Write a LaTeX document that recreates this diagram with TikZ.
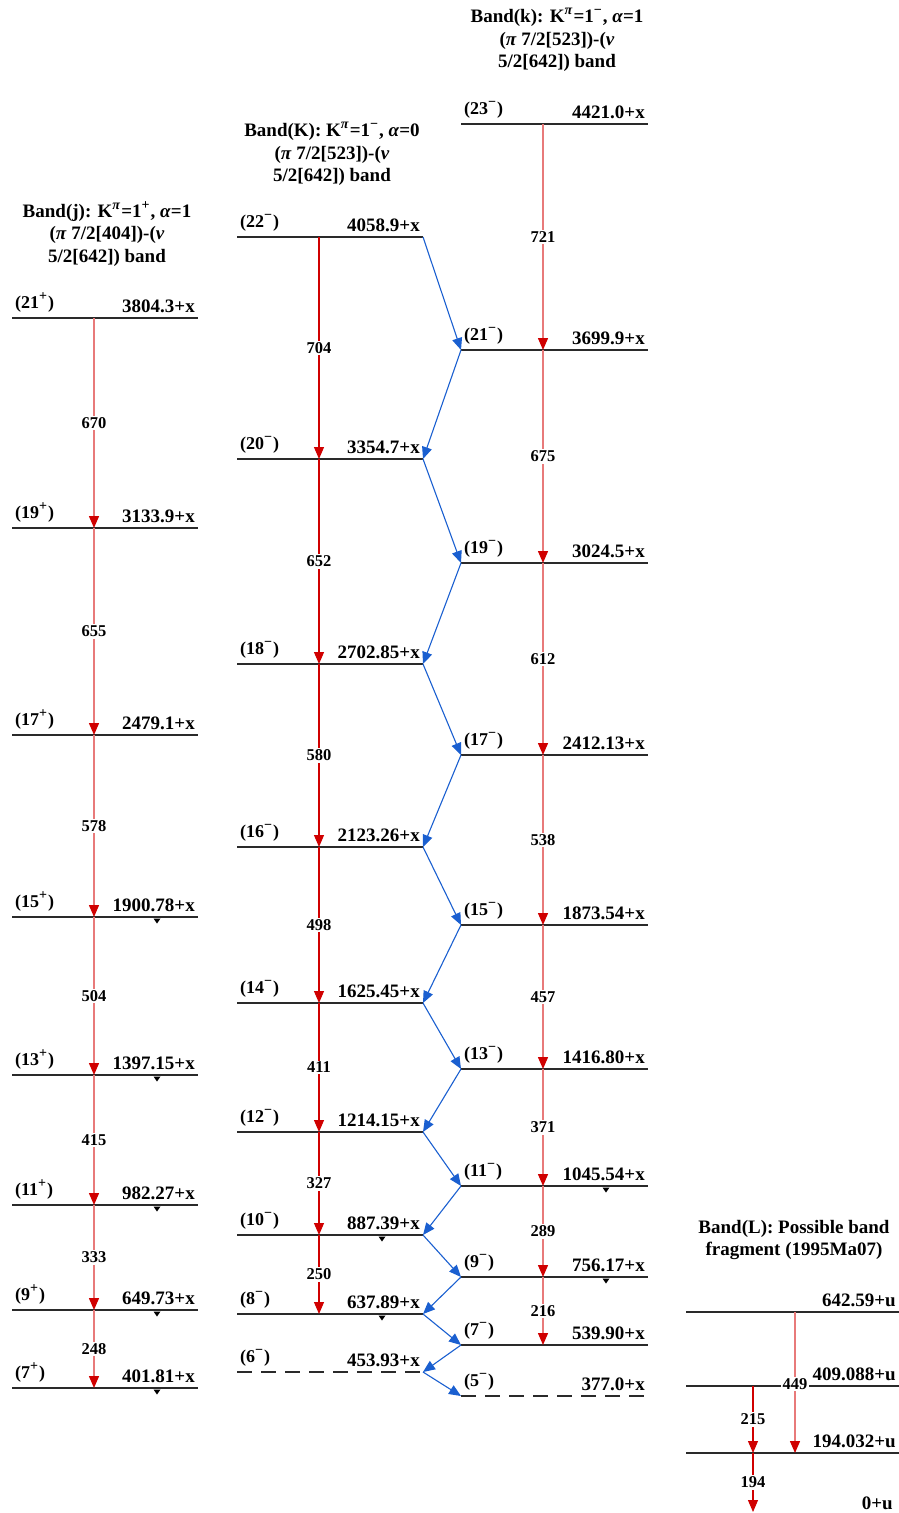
\documentclass[tikz,border=0pt]{standalone}
\usepackage{fontspec}
\setmainfont{Liberation Serif}
\usetikzlibrary{arrows.meta}
\definecolor{lvc}{HTML}{2A2A2A}
\definecolor{gpink}{HTML}{E87A7A}
\definecolor{gred}{HTML}{D00000}
\definecolor{gdark}{HTML}{D00000}
\definecolor{gblue}{HTML}{1A5FD0}

% raised sign used for parities
\newcommand\sps[1]{\raisebox{0.42em}{\fontsize{14}{14}\selectfont #1}\kern1pt}

% level: [style]{name}{x left}{x right}{x of gamma}{y}{spin}{energy}
\newcommand\levl[8][lvline]{%
  \coordinate (#2-l) at (#3,#6);
  \coordinate (#2-r) at (#4,#6);
  \coordinate (#2-g) at (#5,#6);
  \draw[#1] (#2-l) -- (#2-r);
  \node[spinlbl] (#2-s) at ({#3+3},{#6-10}) {#7};
  \node[enlbl] (#2-e) at ({#4-3},{#6-6}) {#8};
}
% small downward tick under a level
\newcommand\dtick[1]{%
  \fill[black] ([xshift=141.5pt,yshift=-1.5pt]#1-l) -- ([xshift=148.5pt,yshift=-1.5pt]#1-l)
    -- ([xshift=145pt,yshift=-6.5pt]#1-l) -- cycle;}

\begin{document}
\begin{tikzpicture}[x=1pt,y=-1pt,
  lvline/.style={draw=lvc, line width=1.2pt},
  lvdash/.style={lvline, dash pattern=on 15pt off 9pt},
  spinlbl/.style={font=\fontsize{18}{20}\selectfont\bfseries, anchor=base west, inner sep=0pt},
  enlbl/.style={font=\fontsize{19}{20}\selectfont\bfseries, anchor=base east, inner sep=0pt},
  glbl/.style={font=\fontsize{16.5}{18}\selectfont\bfseries, fill=white, inner sep=1.5pt},
  hdr/.style={font=\fontsize{19}{22.5}\selectfont\bfseries, align=center, inner sep=0pt},
  gsoft/.style={draw=gpink, line width=1.4pt, -{Triangle[width=10pt,length=12pt,color=gdark]}},
  ghard/.style={draw=gred, line width=1.2pt, -{Triangle[width=10pt,length=12pt,color=gdark]}},
  bluearr/.style={draw=gblue, line width=1.1pt, -{Triangle[width=10pt,length=12pt]}}]
\useasboundingbox (0,0) rectangle (899,1513);

% band headers
\node[hdr] (hj) at (107,234) {Band(j): K\sps{\textit{π}}=1\sps{+}, \textit{α}=1\\(\textit{π} 7/2[404])-(\textit{ν}\\5/2[642]) band};
\node[hdr] (hK) at (332,154) {Band(K): K\sps{\textit{π}}=1\sps{−}, \textit{α}=0\\(\textit{π} 7/2[523])-(\textit{ν}\\5/2[642]) band};
\node[hdr] (hk) at (557,40) {Band(k): K\sps{\textit{π}}=1\sps{−}, \textit{α}=1\\(\textit{π} 7/2[523])-(\textit{ν}\\5/2[642]) band};
\node[hdr] (hL) at (794,1240) {Band(L): Possible band\\fragment (1995Ma07)};

% band j
\levl{j21}{12}{198}{94}{318}{(21\sps{+})}{3804.3+x}
\levl{j19}{12}{198}{94}{528}{(19\sps{+})}{3133.9+x}
\levl{j17}{12}{198}{94}{735}{(17\sps{+})}{2479.1+x}
\levl{j15}{12}{198}{94}{917}{(15\sps{+})}{1900.78+x}
\levl{j13}{12}{198}{94}{1075}{(13\sps{+})}{1397.15+x}
\levl{j11}{12}{198}{94}{1205}{(11\sps{+})}{982.27+x}
\levl{j9}{12}{198}{94}{1310}{(9\sps{+})}{649.73+x}
\levl{j7}{12}{198}{94}{1388}{(7\sps{+})}{401.81+x}

% band K
\levl{K22}{237}{423}{319}{237}{(22\sps{−})}{4058.9+x}
\levl{K20}{237}{423}{319}{459}{(20\sps{−})}{3354.7+x}
\levl{K18}{237}{423}{319}{664}{(18\sps{−})}{2702.85+x}
\levl{K16}{237}{423}{319}{847}{(16\sps{−})}{2123.26+x}
\levl{K14}{237}{423}{319}{1003}{(14\sps{−})}{1625.45+x}
\levl{K12}{237}{423}{319}{1132}{(12\sps{−})}{1214.15+x}
\levl{K10}{237}{423}{319}{1235}{(10\sps{−})}{887.39+x}
\levl{K8}{237}{423}{319}{1314}{(8\sps{−})}{637.89+x}
\levl[lvdash]{K6}{237}{423}{319}{1372}{(6\sps{−})}{453.93+x}

% band k
\levl{k23}{461}{648}{543}{124}{(23\sps{−})}{4421.0+x}
\levl{k21}{461}{648}{543}{350}{(21\sps{−})}{3699.9+x}
\levl{k19}{461}{648}{543}{563}{(19\sps{−})}{3024.5+x}
\levl{k17}{461}{648}{543}{755}{(17\sps{−})}{2412.13+x}
\levl{k15}{461}{648}{543}{925}{(15\sps{−})}{1873.54+x}
\levl{k13}{461}{648}{543}{1069}{(13\sps{−})}{1416.80+x}
\levl{k11}{461}{648}{543}{1186}{(11\sps{−})}{1045.54+x}
\levl{k9}{461}{648}{543}{1277}{(9\sps{−})}{756.17+x}
\levl{k7}{461}{648}{543}{1345}{(7\sps{−})}{539.90+x}
\levl[lvdash]{k5}{461}{648}{543}{1396}{(5\sps{−})}{377.0+x}

% band L
\levl{L642}{686}{899}{795}{1312}{}{642.59+u}
\levl{L409}{686}{899}{753}{1386}{}{409.088+u}
\levl{L194}{686}{899}{753}{1453}{}{194.032+u}
\coordinate (L194-h) at (795,1453);
\coordinate (L0-g) at (753,1512);
\node[enlbl] (L0-e) at (893,1509) {0+u};

% ticks under levels
\foreach \n in {j15,j13,j11,j9,j7,K10,K8,k11,k9} {\dtick{\n}}

% in-band transitions, band j
\draw[gsoft] (j21-g) -- node[glbl] (gj670) {670} (j19-g);
\draw[gsoft] (j19-g) -- node[glbl] (gj655) {655} (j17-g);
\draw[gsoft] (j17-g) -- node[glbl] (gj578) {578} (j15-g);
\draw[gsoft] (j15-g) -- node[glbl] (gj504) {504} (j13-g);
\draw[gsoft] (j13-g) -- node[glbl] (gj415) {415} (j11-g);
\draw[gsoft] (j11-g) -- node[glbl] (gj333) {333} (j9-g);
\draw[gsoft] (j9-g) -- node[glbl] (gj248) {248} (j7-g);

% band K
\draw[ghard] (K22-g) -- node[glbl] (gK704) {704} (K20-g);
\draw[ghard] (K20-g) -- node[glbl] (gK652) {652} (K18-g);
\draw[ghard] (K18-g) -- node[glbl] (gK580) {580} (K16-g);
\draw[ghard] (K16-g) -- node[glbl] (gK498) {498} (K14-g);
\draw[ghard] (K14-g) -- node[glbl] (gK411) {411} (K12-g);
\draw[ghard] (K12-g) -- node[glbl] (gK327) {327} (K10-g);
\draw[ghard] (K10-g) -- node[glbl] (gK250) {250} (K8-g);

% band k
\draw[gsoft] (k23-g) -- node[glbl] (gk721) {721} (k21-g);
\draw[gsoft] (k21-g) -- node[glbl] (gk675) {675} (k19-g);
\draw[gsoft] (k19-g) -- node[glbl] (gk612) {612} (k17-g);
\draw[gsoft] (k17-g) -- node[glbl] (gk538) {538} (k15-g);
\draw[gsoft] (k15-g) -- node[glbl] (gk457) {457} (k13-g);
\draw[gsoft] (k13-g) -- node[glbl] (gk371) {371} (k11-g);
\draw[gsoft] (k11-g) -- node[glbl] (gk289) {289} (k9-g);
\draw[gsoft] (k9-g) -- node[glbl] (gk216) {216} (k7-g);

% band L
\draw[gsoft] (L642-g) -- node[glbl, pos=0.51] (gL449) {449} (L194-h);
\draw[ghard] (L409-g) -- node[glbl] (gL215) {215} (L194-g);
\draw[ghard] (L194-g) -- node[glbl] (gL194) {194} (L0-g);

% inter-band transitions K <-> k
\draw[bluearr] (K22-r) -- (k21-l);
\draw[bluearr] (k21-l) -- (K20-r);
\draw[bluearr] (K20-r) -- (k19-l);
\draw[bluearr] (k19-l) -- (K18-r);
\draw[bluearr] (K18-r) -- (k17-l);
\draw[bluearr] (k17-l) -- (K16-r);
\draw[bluearr] (K16-r) -- (k15-l);
\draw[bluearr] (k15-l) -- (K14-r);
\draw[bluearr] (K14-r) -- (k13-l);
\draw[bluearr] (k13-l) -- (K12-r);
\draw[bluearr] (K12-r) -- (k11-l);
\draw[bluearr] (k11-l) -- (K10-r);
\draw[bluearr] (K10-r) -- (k9-l);
\draw[bluearr] (k9-l) -- (K8-r);
\draw[bluearr] (K8-r) -- (k7-l);
\draw[bluearr] (k7-l) -- (K6-r);
\draw[bluearr] (K6-r) -- (k5-l);
\end{tikzpicture}
\end{document}
